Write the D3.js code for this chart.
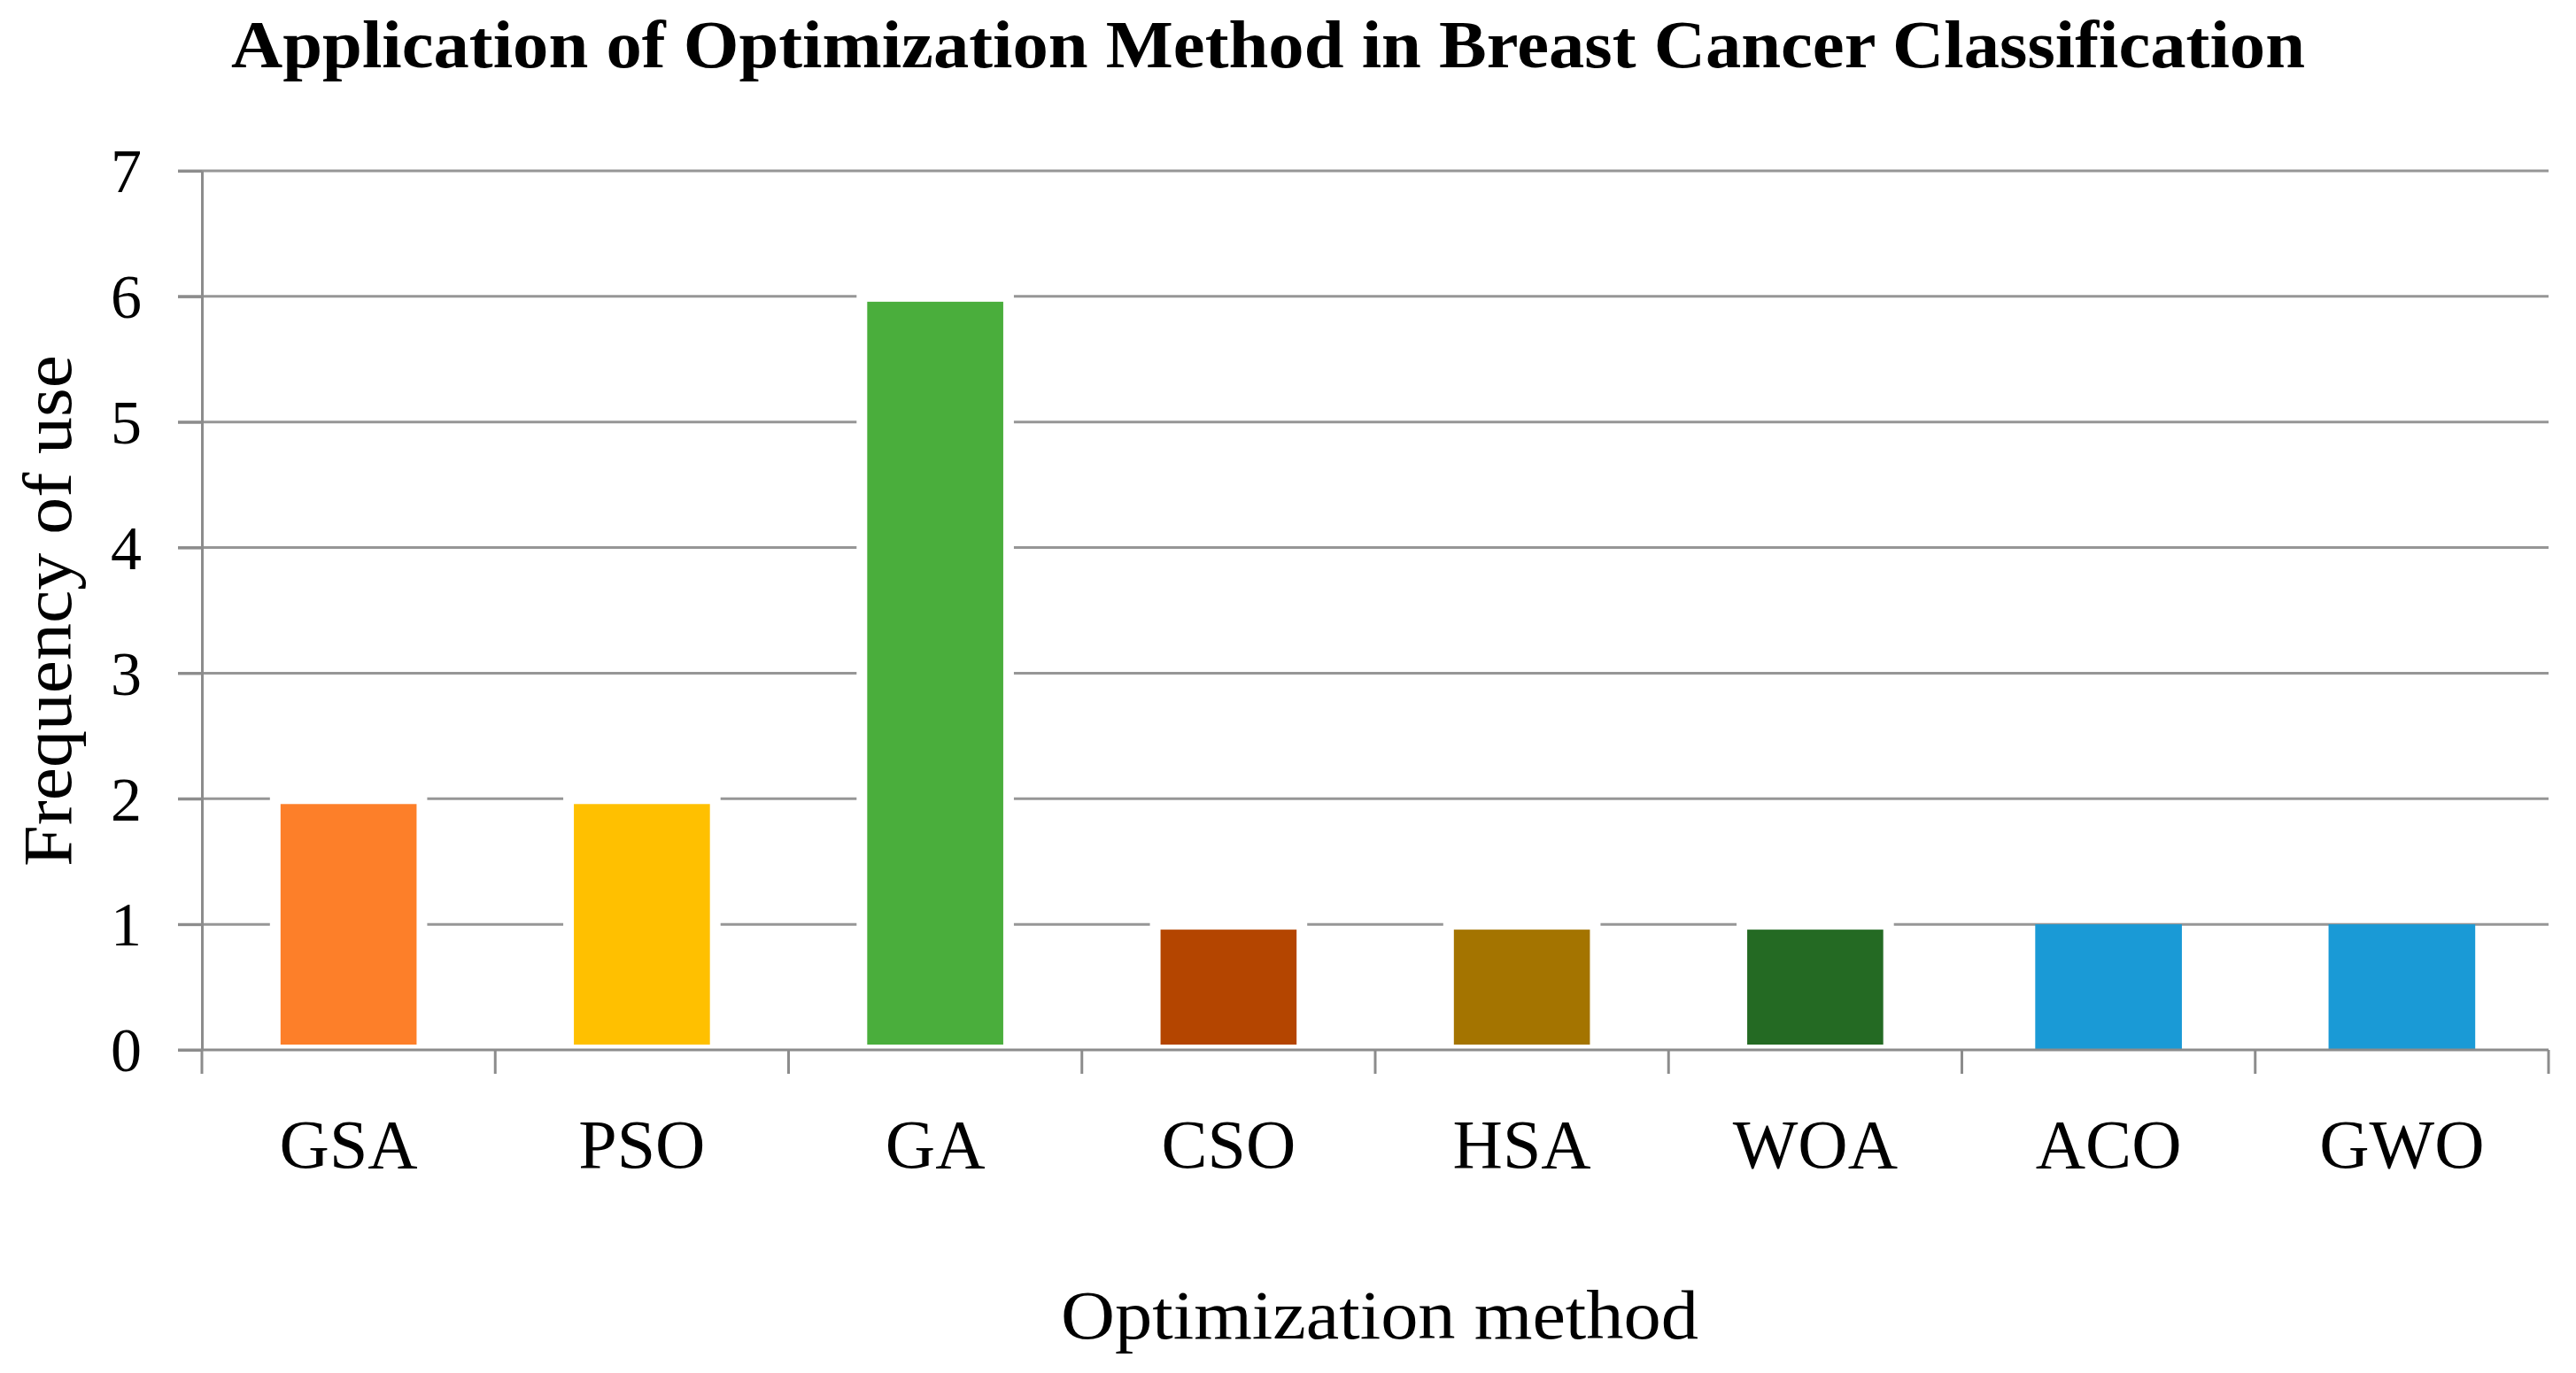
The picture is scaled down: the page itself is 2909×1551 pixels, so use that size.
<!DOCTYPE html>
<html>
<head>
<meta charset="utf-8">
<script src="https://cdn.jsdelivr.net/npm/d3@7"></script>
<style>
  body { margin: 0; background: #fff; }
  text { font-family: "Liberation Serif", "DejaVu Serif", serif; fill: #000; }
  .grid line { stroke: #969696; stroke-width: 3; }
  .axis path, .axis line { stroke: #8c8c8c; stroke-width: 3; }
</style>
</head>
<body>
<div id="chart"></div>
<script>
var methods = ["GSA", "PSO", "GA", "CSO", "HSA", "WOA", "ACO", "GWO"];
var counts = [2, 2, 6, 1, 1, 1, 1, 1];
var barColors = ["#fd7f29", "#ffc000", "#4aae3c", "#b44500", "#a47400", "#246a23", "#1a9ad6", "#1a9ad6"];
var outlinedMethods = ["GSA", "PSO", "GA", "CSO", "HSA", "WOA"];
var yTicks = [0, 1, 2, 3, 4, 5, 6, 7];

var fullwidth = 2909;
var fullheight = 1551;
var margin = {top: 193, right: 31, bottom: 365, left: 228};

var width = fullwidth - margin.left - margin.right;
var height = fullheight - margin.top - margin.bottom;

var root = d3.select("#chart")
            .append("svg")
            .attr("width", fullwidth)
            .attr("height", fullheight);

var svg = root.append("g")
            .attr("transform", "translate(" + margin.left + "," + margin.top + ")");

var xScale = d3.scaleBand()
                .domain(methods)
                .range([0, width])
                .paddingInner(0.5)
                .paddingOuter(0.25);

// category boundaries for the x ticks
var xCells = d3.scaleBand()
                .domain(methods)
                .range([0, width]);

var yScale = d3.scaleLinear()
                .domain([0, 7])
                .range([height, 0]);

var colorScale = d3.scaleOrdinal()
                .domain(methods)
                .range(barColors);

// gridlines
svg.append("g")
    .attr("class", "grid")
    .selectAll("line")
    .data(yTicks.filter(function(d) { return d > 0; }))
    .enter()
    .append("line")
    .attr("x1", -27)
    .attr("x2", width)
    .attr("y1", function(d) { return yScale(d); })
    .attr("y2", function(d) { return yScale(d); });

// bars
var data = methods.map(function(m, i) {
    return {method: m, count: counts[i]};
});

svg.selectAll("rect.bar")
    .data(data)
    .enter()
    .append("rect")
    .attr("class", "bar")
    .attr("x", function(d) { return xScale(d.method); })
    .attr("width", xScale.bandwidth())
    .attr("y", function(d) { return yScale(d.count); })
    .attr("height", function(d) { return yScale(0) - yScale(d.count); })
    .attr("fill", function(d) { return colorScale(d.method); })
    .attr("stroke", function(d) {
        return outlinedMethods.indexOf(d.method) >= 0 ? "#fff" : "none";
    })
    .attr("stroke-width", 12);

// y axis
var yAxis = d3.axisLeft(yScale)
                .tickValues(yTicks)
                .tickSizeInner(27)
                .tickSizeOuter(0)
                .tickPadding(41)
                .tickFormat(d3.format("d"));

var gy = svg.append("g")
    .attr("class", "y axis")
    .call(yAxis);
gy.selectAll("text")
    .style("font-size", "70px")
    .attr("dy", "0.34em");

// x axis: boundary ticks + labels under each bar
var gx = svg.append("g")
    .attr("class", "x axis")
    .attr("transform", "translate(0," + height + ")");

gx.append("line")
    .attr("x1", -27)
    .attr("x2", width)
    .attr("y1", 0)
    .attr("y2", 0);

gx.selectAll("line.tick")
    .data(methods.concat(["end"]))
    .enter()
    .append("line")
    .attr("class", "tick")
    .attr("x1", function(d) { return d === "end" ? width : xCells(d); })
    .attr("x2", function(d) { return d === "end" ? width : xCells(d); })
    .attr("y1", 0)
    .attr("y2", 27);

var xAxis = d3.axisBottom(xScale)
                .tickSize(0)
                .tickPadding(0);

var gxl = svg.append("g")
    .attr("class", "x labels")
    .attr("transform", "translate(0," + height + ")")
    .call(xAxis);
gxl.select(".domain").remove();
gxl.selectAll("text")
    .attr("y", 133)
    .attr("dy", 0)
    .style("font-size", "78px");

// titles
root.append("text")
    .attr("x", 261)
    .attr("y", 76)
    .attr("textLength", 2342)
    .attr("lengthAdjust", "spacingAndGlyphs")
    .style("font-size", "76px")
    .style("font-weight", "bold")
    .text("Application of Optimization Method in Breast Cancer Classification");

root.append("text")
    .attr("x", 1558)
    .attr("y", 1512)
    .attr("text-anchor", "middle")
    .attr("textLength", 720)
    .attr("lengthAdjust", "spacingAndGlyphs")
    .style("font-size", "78px")
    .text("Optimization method");

root.append("text")
    .attr("transform", "translate(80,690) rotate(-90)")
    .attr("text-anchor", "middle")
    .attr("textLength", 578)
    .attr("lengthAdjust", "spacingAndGlyphs")
    .style("font-size", "78px")
    .text("Frequency of use");
</script>
</body>
</html>
